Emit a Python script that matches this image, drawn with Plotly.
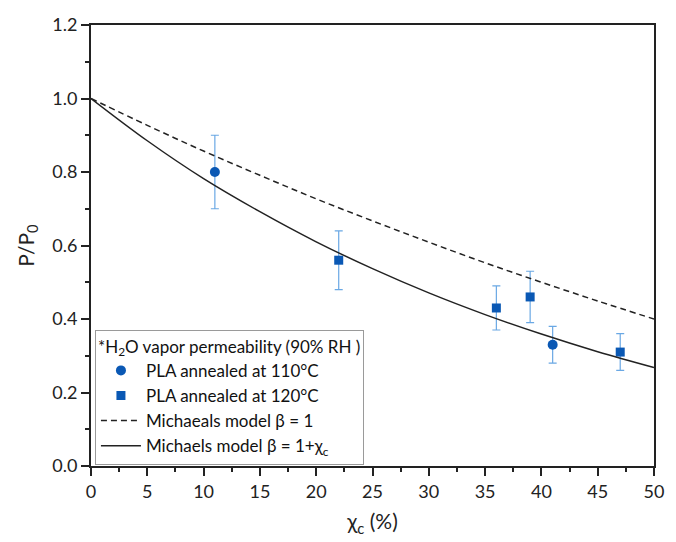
import plotly.graph_objects as go

# Measured relative permeability vs. crystallinity
x_110 = [11, 41]
y_110 = [0.80, 0.33]
err_110 = [0.10, 0.05]

x_120 = [22, 36, 39, 47]
y_120 = [0.56, 0.43, 0.46, 0.31]
err_120 = [0.08, 0.06, 0.07, 0.05]

# Model curves sampled every 5 % of crystallinity
x_model = [0, 5, 10, 15, 20, 25, 30, 35, 40, 45, 50]
y_beta1 = [1.0, 0.927, 0.857, 0.791, 0.727, 0.667, 0.609, 0.553, 0.500, 0.449, 0.400]
y_beta1x = [1.0, 0.885, 0.782, 0.692, 0.610, 0.537, 0.471, 0.412, 0.359, 0.311, 0.268]

FONT = "Lato"
AXIS_COLOR = "#222222"
MARK_COLOR = "#0a58b4"
ERR_COLOR = "#6aa8e4"

fig = go.Figure()

fig.add_trace(go.Scatter(
    x=x_110, y=y_110, mode="markers", name="PLA annealed at 110°C",
    marker=dict(symbol="circle", size=10, color=MARK_COLOR),
    error_y=dict(type="data", array=err_110, color=ERR_COLOR, thickness=1.2, width=4),
))
fig.add_trace(go.Scatter(
    x=x_120, y=y_120, mode="markers", name="PLA annealed at 120°C",
    marker=dict(symbol="square", size=9, color=MARK_COLOR),
    error_y=dict(type="data", array=err_120, color=ERR_COLOR, thickness=1.2, width=4),
))
fig.add_trace(go.Scatter(
    x=x_model, y=y_beta1, mode="lines", name="Michaeals model β = 1",
    line=dict(color=AXIS_COLOR, width=1.5, dash="6px,4px", shape="spline"),
))
fig.add_trace(go.Scatter(
    x=x_model, y=y_beta1x, mode="lines", name="Michaels model β = 1+χ<sub>c</sub>",
    line=dict(color=AXIS_COLOR, width=1.5, shape="spline"),
))

axis_common = dict(
    showgrid=False, zeroline=False,
    showline=True, linecolor=AXIS_COLOR, linewidth=2, mirror=True,
    ticks="outside", ticklen=8, tickwidth=1.5, tickcolor=AXIS_COLOR,
    tickfont=dict(family=FONT, size=18, color="#222"),
)

fig.update_xaxes(
    range=[0, 50], dtick=5, tick0=0,
    minor=dict(ticks="outside", ticklen=4, tickwidth=1.5, tickcolor=AXIS_COLOR, dtick=2.5),
    title=dict(text="χ<sub>c</sub> (%)", font=dict(family=FONT, size=21, color="#222"), standoff=14),
    **axis_common,
)
fig.update_yaxes(
    range=[0, 1.2], dtick=0.2, tick0=0, tickformat=".1f",
    minor=dict(ticks="outside", ticklen=4, tickwidth=1.5, tickcolor=AXIS_COLOR, dtick=0.1),
    title=dict(text="P/P<sub>0</sub>", font=dict(family=FONT, size=21, color="#222"), standoff=12),
    **axis_common,
)

fig.update_layout(
    width=676, height=542,
    margin=dict(l=91, r=15, t=25, b=73),
    paper_bgcolor="white", plot_bgcolor="white",
    font=dict(family=FONT, color="#111"),
    legend=dict(
        x=0.007, y=0.309, xanchor="left", yanchor="top",
        bgcolor="white", bordercolor="#9a9a9a", borderwidth=1,
        font=dict(family=FONT, size=17, color="#111"),
        title=dict(text="*H<sub>2</sub>O vapor permeability (90% RH )",
                   font=dict(family=FONT, size=17, color="#111")),
        tracegroupgap=0, itemwidth=40,
    ),
)

fig.write_html("out.html")
